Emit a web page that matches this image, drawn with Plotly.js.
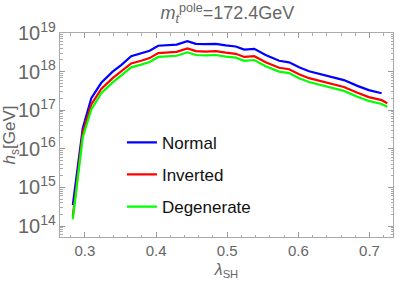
<!DOCTYPE html>
<html>
<head>
<meta charset="utf-8">
<script src="https://cdn.plot.ly/plotly-3.0.1.min.js"></script>
<style>html,body{margin:0;padding:0;background:#fff;}#chart{width:399px;height:286px;}</style>
</head>
<body>
<div id="chart"></div>
<script>
// lambda_SH values and log10(h_s/GeV)
var lambdaNormal = [0.283,0.297,0.309,0.323,0.339,0.351,0.365,0.379,0.391,0.403,0.417,0.429,0.444,0.456,0.470,0.484,0.498,0.512,0.524,0.538,0.554,0.573,0.587,0.601,0.615,0.629,0.648,0.664,0.683,0.699,0.717];
var logNormal = [14.54,16.53,17.31,17.71,18.00,18.17,18.40,18.47,18.54,18.67,18.69,18.70,18.79,18.72,18.71,18.72,18.68,18.65,18.57,18.59,18.43,18.28,18.24,18.11,18.01,17.94,17.85,17.78,17.63,17.52,17.44];

var lambdaOther = [0.283,0.297,0.309,0.323,0.339,0.351,0.365,0.379,0.391,0.403,0.417,0.429,0.444,0.456,0.470,0.484,0.498,0.512,0.524,0.538,0.554,0.573,0.587,0.601,0.615,0.629,0.648,0.664,0.683,0.699,0.717,0.725];
var logInverted = [14.25,16.42,17.15,17.55,17.83,18.00,18.21,18.28,18.35,18.48,18.50,18.51,18.60,18.53,18.52,18.53,18.49,18.46,18.38,18.40,18.24,18.10,18.06,17.93,17.83,17.76,17.67,17.60,17.45,17.34,17.26,17.18];
var logDegenerate = [14.18,16.30,17.02,17.44,17.72,17.89,18.11,18.18,18.25,18.38,18.40,18.41,18.50,18.43,18.42,18.43,18.39,18.36,18.28,18.30,18.14,18.00,17.96,17.83,17.73,17.66,17.57,17.50,17.35,17.24,17.16,17.09];

var seriesNames = ["Normal","Inverted","Degenerate"];
var seriesColors = ["#0000ff","#ff0000","#00ff00"];

function toGeV(arr){ return arr.map(function(v){ return Math.pow(10, v); }); }

var traces = [
  {x: lambdaNormal, y: toGeV(logNormal), name: seriesNames[0], legendgroup:"a"},
  {x: lambdaOther, y: toGeV(logInverted), name: seriesNames[1], legendgroup:"b"},
  {x: lambdaOther, y: toGeV(logDegenerate), name: seriesNames[2], legendgroup:"c"}
].map(function(t, i){
  t.type = "scatter"; t.mode = "lines";
  t.line = {color: seriesColors[i], width: 2.2};
  return t;
});

var gray = "#666666";
var font = "Liberation Sans, Arial, sans-serif";
var layout = {
  width: 399, height: 286,
  margin: {l: 60, r: 6, t: 33, b: 49},
  paper_bgcolor: "#fff", plot_bgcolor: "#fff",
  showlegend: true,
  legend: {x: 0.186, y: 0.55, xanchor: "left", yanchor: "top", bgcolor: "rgba(0,0,0,0)",
           font: {family: font, size: 17, color: "#111"},
           traceorder: "grouped", tracegroupgap: 7},
  title: {text: "<i>m</i><sub><i>t</i></sub><sup>pole</sup>=172.4GeV", x: 0.57, xanchor: "center", y: 0.955, yanchor: "middle",
          font: {family: font, size: 18, color: gray}},
  xaxis: {
    range: [0.265, 0.733], dtick: 0.1, tick0: 0.3,
    ticks: "inside", ticklen: 5, tickcolor: "#999", mirror: "allticks",
    showline: true, linecolor: "#aaa", linewidth: 1, showgrid: false, zeroline: false,
    minor: {dtick: 0.02, ticks: "inside", ticklen: 2.5, tickcolor: "#aaa", showgrid: false},
    tickfont: {family: font, size: 15, color: gray},
    title: {text: "<i>λ</i><sub>SH</sub>", standoff: 5, font: {family: font, size: 16, color: gray}}
  },
  yaxis: {
    type: "log", range: [13.715, 19.0], dtick: 1,
    exponentformat: "power",
    ticks: "inside", ticklen: 5, tickcolor: "#999", mirror: "allticks",
    showline: true, linecolor: "#aaa", linewidth: 1, showgrid: false, zeroline: false,
    minor: {dtick: "D1", ticks: "inside", ticklen: 2.5, tickcolor: "#aaa", showgrid: false},
    tickfont: {family: font, size: 16, color: gray},
    title: {text: "<i>h</i><sub>s</sub>[GeV]", standoff: 3, font: {family: font, size: 17, color: gray}}
  }
};

Plotly.newPlot("chart", traces, layout, {displayModeBar: false, staticPlot: true});
</script>
</body>
</html>
